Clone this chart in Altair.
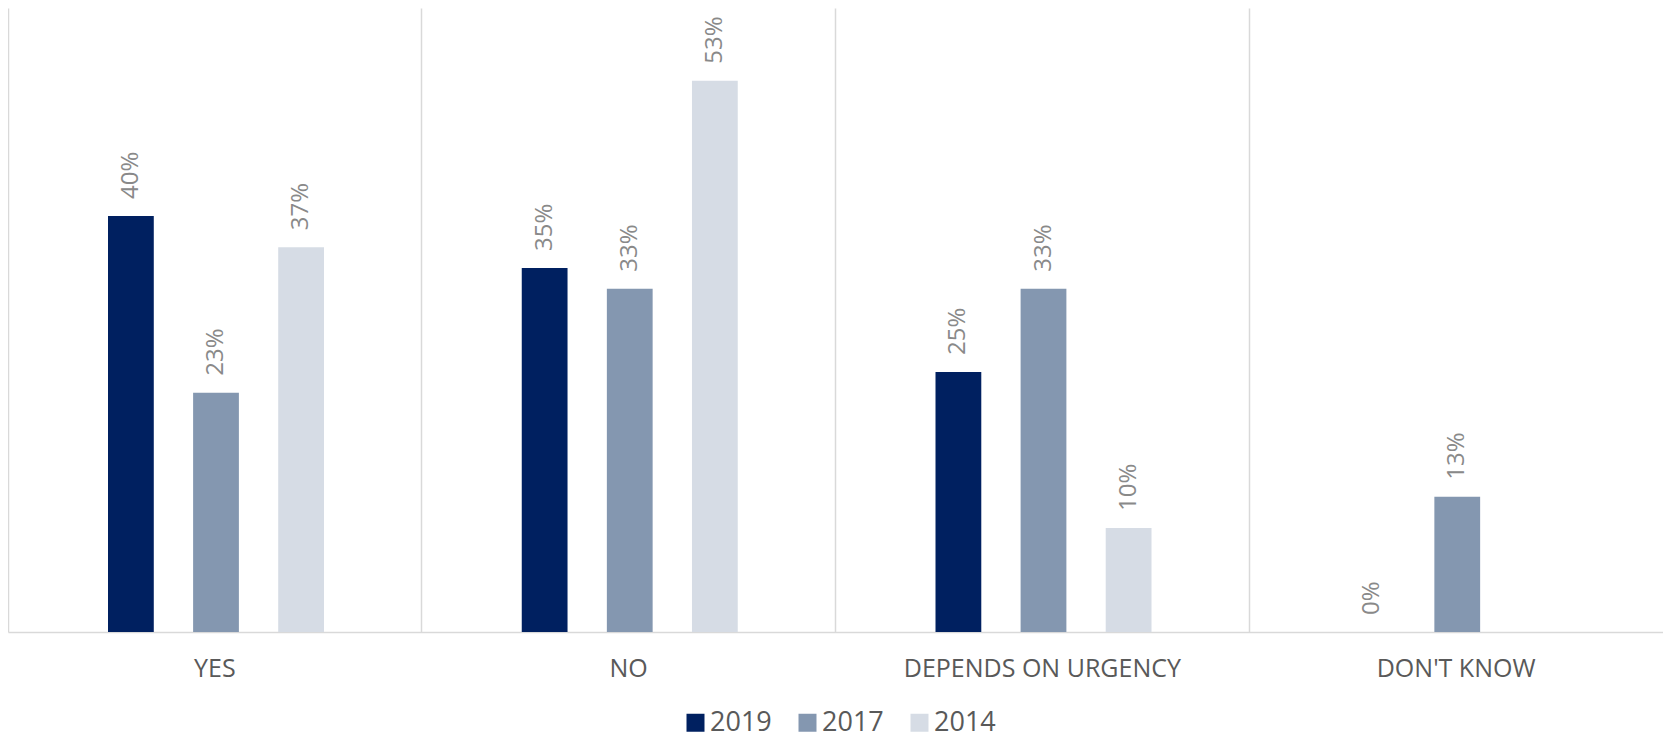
import altair as alt
import pandas as pd

categories = ["YES", "NO", "DEPENDS ON URGENCY", "DON'T KNOW"]
years = ["2019", "2017", "2014"]
values_2019 = [40, 35, 25, 0]
values_2017 = [23, 33, 33, 13]
values_2014 = [37, 53, 10, None]
colors = ["#002060", "#8497B0", "#D6DCE5"]

rows = []
for yr, vals in zip(years, [values_2019, values_2017, values_2014]):
    for cat, v in zip(categories, vals):
        if v is not None:
            rows.append({"category": cat, "year": yr, "value": v})
df = pd.DataFrame(rows)

FONT = "Open Sans"

x_enc = alt.X(
    "category:N",
    sort=categories,
    scale=alt.Scale(paddingInner=0, paddingOuter=0),
    axis=alt.Axis(
        title=None,
        labelAngle=0,
        labelFontSize=25,
        labelColor="#595959",
        labelFont=FONT,
        labelPadding=24,
        labelLimit=0,
        ticks=False,
        grid=True,
        bandPosition=0,
        gridColor="#D9D9D9",
        gridWidth=1.5,
        domainColor="#D9D9D9",
        domainWidth=1.5,
    ),
)
xoff_enc = alt.XOffset(
    "year:N",
    sort=years,
    scale=alt.Scale(range=[100, 316], paddingInner=0.462, paddingOuter=0),
)
y_enc = alt.Y("value:Q", scale=alt.Scale(domain=[0, 60]), axis=None)

bars = alt.Chart(df).mark_bar().encode(
    x=x_enc,
    xOffset=xoff_enc,
    y=y_enc,
    color=alt.Color(
        "year:N",
        sort=years,
        scale=alt.Scale(domain=years, range=colors),
        legend=alt.Legend(
            title=None,
            orient="none",
            direction="horizontal",
            legendX=674,
            legendY=701,
            symbolType="square",
            symbolSize=324,
            symbolStrokeWidth=0,
            labelFontSize=27,
            labelFont=FONT,
            labelColor="#595959",
            labelOffset=1,
            columnPadding=22,
        ),
    ),
)

labels = alt.Chart(df).transform_calculate(
    label="datum.value + '%'"
).mark_text(
    angle=270,
    align="left",
    baseline="middle",
    dx=17,
    fontSize=24,
    font=FONT,
    color="#898989",
).encode(
    x=alt.X("category:N", sort=categories),
    xOffset=alt.XOffset("year:N", sort=years),
    y="value:Q",
    text="label:N",
)

chart = (
    alt.layer(bars, labels)
    .properties(
        width=1655,
        height=624,
        padding={"left": 0, "top": 0, "right": 0, "bottom": 4},
        background="white",
    )
    .configure_view(stroke=None)
)

chart.save("out.html", embed_options={"renderer": "svg", "actions": False})
